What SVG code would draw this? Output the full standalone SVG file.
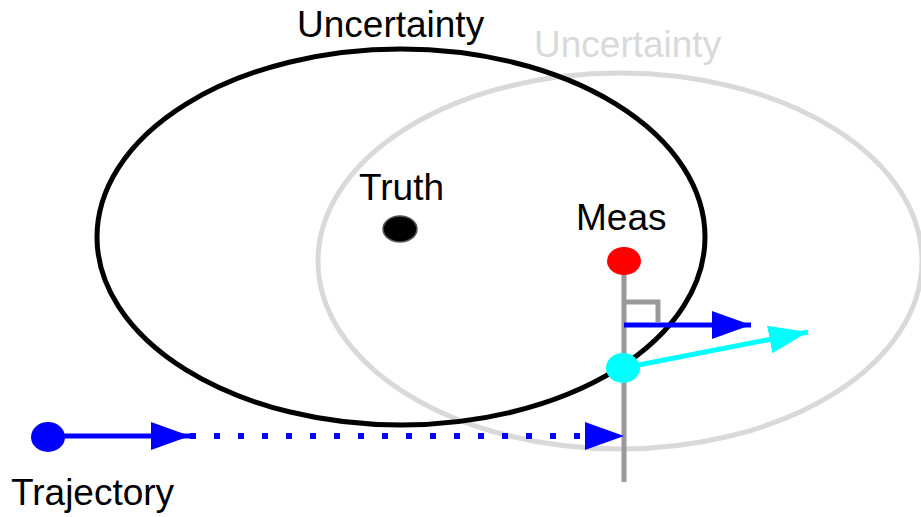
<svg xmlns="http://www.w3.org/2000/svg" width="921" height="517" viewBox="0 0 921 517">
<style>
text{font-family:"Liberation Sans",Arial,sans-serif;font-size:37px;fill:#000}
.gray{fill:#d9d9d9}
</style>
<defs>
<marker id="hb" markerWidth="39" markerHeight="28" refX="39" refY="14" orient="auto" markerUnits="userSpaceOnUse"><path d="M0,0 L39,14 L0,28 Z" fill="#0000ff"/></marker>
<marker id="hc" markerWidth="39" markerHeight="28" refX="39" refY="14" orient="auto" markerUnits="userSpaceOnUse"><path d="M0,0 L39,14 L0,28 Z" fill="#00ffff"/></marker>
</defs>
<rect width="921" height="517" fill="#fff"/>
<g id="uncertainty-gray">
<ellipse cx="620" cy="261" rx="302" ry="188" fill="none" stroke="#d9d9d9" stroke-width="5"/>
<text class="gray" x="534" y="57">Uncertainty</text>
</g>
<g id="uncertainty-black">
<ellipse cx="401" cy="237" rx="304" ry="188" fill="none" stroke="#000" stroke-width="5"/>
<text x="297" y="37">Uncertainty</text>
</g>
<g id="connectors">
<line x1="624" y1="261" x2="624" y2="482" stroke="#999" stroke-width="5"/>
<path d="M624,302 H658 V322" fill="none" stroke="#999" stroke-width="5"/>
<line x1="624" y1="325" x2="751" y2="325" stroke="#0000ff" stroke-width="5" marker-end="url(#hb)"/>
<line x1="623" y1="368" x2="808" y2="332" stroke="#00ffff" stroke-width="5" marker-end="url(#hc)"/>
<line x1="48" y1="436" x2="190" y2="436" stroke="#0000ff" stroke-width="5" marker-end="url(#hb)"/>
<line x1="190" y1="436" x2="586" y2="436" stroke="#0000ff" stroke-width="6" stroke-dasharray="6 18"/>
<line x1="580" y1="436" x2="624" y2="436" stroke="none" stroke-width="5" marker-end="url(#hb)"/>
</g>
<g id="truth">
<ellipse cx="400" cy="229" rx="17" ry="13" fill="#000" stroke="#555" stroke-width="1.5"/>
<text x="359" y="200">Truth</text>
</g>
<g id="meas">
<ellipse cx="624" cy="261" rx="17" ry="14" fill="#ff0000"/>
<text x="576" y="230">Meas</text>
</g>
<g id="projected">
<ellipse cx="623" cy="368" rx="17" ry="15" fill="#00ffff"/>
</g>
<g id="trajectory">
<ellipse cx="48" cy="437" rx="17" ry="15" fill="#0000ff"/>
<text x="11" y="505">Trajectory</text>
</g>
</svg>
